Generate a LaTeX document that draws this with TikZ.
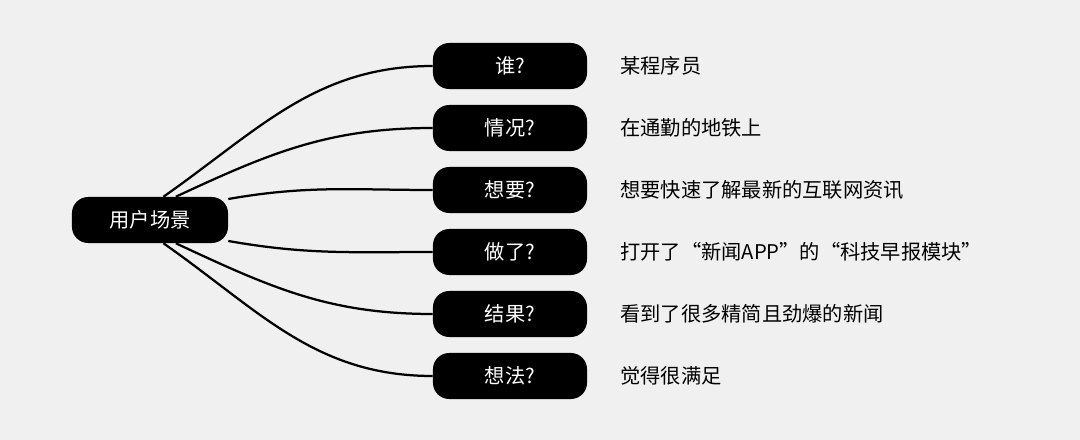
\documentclass[tikz,border=0pt]{standalone}
\usepackage{fontspec}
\setmainfont{Noto Sans CJK SC}
\usetikzlibrary{positioning}
\definecolor{bg}{HTML}{F0F0F0}
\tikzset{
  pill/.style={fill=black, text=white, rounded corners=11.5pt, minimum width=3.85cm, minimum height=1.15cm, font=\Large},
  note/.style={right=0.7cm of #1, anchor=west, font=\Large},
  link/.style={line width=1.6pt, out=0, in=180}
}
\begin{document}
\begin{tikzpicture}[x=0.025cm, y=-0.025cm]
        \fill[bg] (0,0) rectangle (1080,440);

        \node[pill, minimum width=3.9cm] (root) at (150,220) {用户场景};

        \node[pill] (who) at (510,66) {谁?};
        \node[pill] (case) at (510,128) {情况?};
        \node[pill] (want) at (510,190) {想要?};
        \node[pill] (did) at (510,252) {做了?};
        \node[pill] (result) at (510,314) {结果?};
        \node[pill] (idea) at (510,376) {想法?};

        \node[note=who] (who-t) {某程序员};
        \node[note=case] (case-t) {在通勤的地铁上};
        \node[note=want] (want-t) {想要快速了解最新的互联网资讯};
        \node[note=did] (did-t) {打开了“新闻APP”的“科技早报模块”};
        \node[note=result] (result-t) {看到了很多精简且劲爆的新闻};
        \node[note=idea] (idea-t) {觉得很满足};

        \draw[link, out=35] (root.60) to (who.west);
        \draw[link, out=25] (root.42) to (case.west);
        \draw[link, out=10] (root.15) to (want.west);
        \draw[link, out=-10] (root.-15) to (did.west);
        \draw[link, out=-25] (root.-42) to (result.west);
        \draw[link, out=-35] (root.-60) to (idea.west);
\end{tikzpicture}
\end{document}
